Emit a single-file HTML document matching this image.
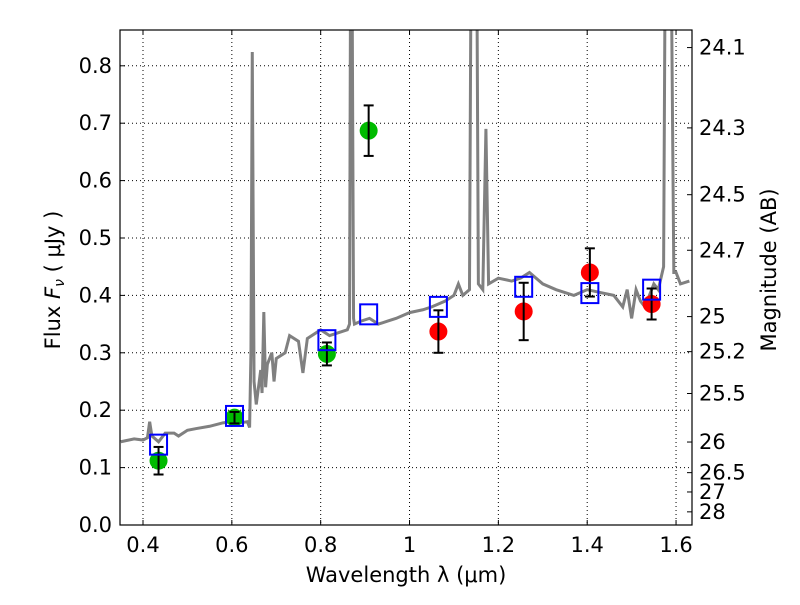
<!DOCTYPE html>
<html><head><meta charset="utf-8"><style>
body{margin:0;background:#fff;}
svg text{font-family:"DejaVu Sans","Liberation Sans",sans-serif;fill:#000;}
</style></head><body>
<svg id="c" width="800" height="600"></svg>
<script>
const specW=[0.35,0.38,0.40,0.41,0.415,0.42,0.435,0.45,0.47,0.48,0.50,0.52,0.55,0.58,0.60,0.62,0.635,0.64,0.643,0.646,0.65,0.655,0.66,0.665,0.668,0.672,0.676,0.68,0.69,0.695,0.70,0.72,0.73,0.75,0.76,0.77,0.80,0.82,0.84,0.86,0.865,0.867,0.871,0.874,0.876,0.89,0.91,0.93,0.95,0.97,1.0,1.03,1.05,1.08,1.10,1.11,1.12,1.135,1.138,1.152,1.155,1.165,1.172,1.178,1.2,1.23,1.25,1.27,1.30,1.33,1.37,1.40,1.43,1.46,1.48,1.49,1.50,1.51,1.52,1.53,1.55,1.56,1.572,1.575,1.59,1.595,1.60,1.61,1.63];
const specF=[0.145,0.15,0.148,0.152,0.18,0.155,0.145,0.16,0.16,0.155,0.165,0.168,0.172,0.178,0.18,0.178,0.18,0.17,0.3,0.824,0.25,0.21,0.24,0.27,0.23,0.371,0.24,0.28,0.30,0.25,0.29,0.30,0.33,0.32,0.265,0.325,0.34,0.33,0.335,0.34,0.35,0.9,0.9,0.36,0.35,0.355,0.36,0.35,0.355,0.36,0.37,0.375,0.38,0.39,0.40,0.42,0.40,0.41,0.9,0.9,0.42,0.41,0.69,0.42,0.43,0.425,0.43,0.44,0.42,0.41,0.40,0.41,0.405,0.40,0.38,0.41,0.36,0.41,0.39,0.38,0.42,0.41,0.45,0.9,0.9,0.44,0.44,0.42,0.425];
const photW=[0.435,0.606,0.814,0.908,1.065,1.257,1.406,1.545];
const photF=[0.112,0.187,0.298,0.687,0.337,0.372,0.44,0.385];
const photE=[0.024,0.01,0.02,0.044,0.037,0.05,0.042,0.027];
const photC=['#00bb00','#00bb00','#00bb00','#00bb00','#ff0000','#ff0000','#ff0000','#ff0000'];
const modelF=[0.14,0.19,0.322,0.367,0.38,0.415,0.404,0.41];
const xTicks=[0.4,0.6,0.8,1.0,1.2,1.4,1.6];
const xLabels=['0.4','0.6','0.8','1','1.2','1.4','1.6'];
const yTicks=[0,0.1,0.2,0.3,0.4,0.5,0.6,0.7,0.8];
const magTicks=[24.1,24.3,24.5,24.7,25,25.2,25.5,26,26.5,27,28];
const L=120,R=692,T=30,B=525;
const X=w=>143+(w-0.4)*444.2;
const Y=f=>B-f*574;
const svg=document.getElementById('c');const NS='http://www.w3.org/2000/svg';
function mk(t,a,p){const e=document.createElementNS(NS,t);for(const k in a)e.setAttribute(k,a[k]);(p||svg).appendChild(e);return e;}
const clip=mk('clipPath',{id:'cp'});mk('rect',{x:L,y:T,width:R-L,height:B-T},clip);
const grid=mk('g',{});

xTicks.forEach((v,i)=>{const x=X(v);mk('line',{x1:x,x2:x,y1:T,y2:B,stroke:'#000','stroke-dasharray':'1,3','stroke-width':1},grid);
mk('line',{x1:x,x2:x,y1:B,y2:B-5,stroke:'#000'});mk('line',{x1:x,x2:x,y1:T,y2:T+5,stroke:'#000'});
const t=mk('text',{x:x,y:B+27,'font-size':21,'text-anchor':'middle'});t.textContent=xLabels[i];
});
yTicks.forEach(v=>{const y=Y(v);mk('line',{x1:L,x2:R,y1:y,y2:y,stroke:'#000','stroke-dasharray':'1,3'},grid);
mk('line',{x1:L,x2:L+5,y1:y,y2:y,stroke:'#000'});
const t=mk('text',{x:L-8,y:y+7,'font-size':21,'text-anchor':'end'});t.textContent=v.toFixed(1);
});
magTicks.forEach(m=>{const f=Math.pow(10,(23.9-m)/2.5);const y=Y(f);
mk('line',{x1:R-5,x2:R,y1:y,y2:y,stroke:'#000'});
const t=mk('text',{x:R+7,y:y+7,'font-size':21});t.textContent=String(m);
});
const g=mk('g',{'clip-path':'url(#cp)'});
const sp=mk('polyline',{points:specW.map((w,i)=>X(w)+','+Y(specF[i])).join(' '),fill:'none',stroke:'#808080','stroke-width':3},g);

photW.forEach((w,i)=>{const x=X(w);
const c=mk('circle',{cx:x,cy:Y(photF[i]),r:9,fill:photC[i]},g);

const y1=Y(photF[i]+photE[i]),y2=Y(photF[i]-photE[i]);
mk('line',{x1:x,x2:x,y1:y1,y2:y2,stroke:'#000','stroke-width':2},g);
mk('line',{x1:x-5,x2:x+5,y1:y1,y2:y1,stroke:'#000','stroke-width':2},g);
mk('line',{x1:x-5,x2:x+5,y1:y2,y2:y2,stroke:'#000','stroke-width':2},g);
const s=mk('rect',{x:x-8.5,y:Y(modelF[i])-10,width:17,height:20,fill:'none',stroke:'#0000ff','stroke-width':2},g);
});
const fr=mk('rect',{x:L,y:T,width:R-L,height:B-T,fill:'none',stroke:'#000','stroke-width':1.2});

</script>
<svg width="800" height="600" style="position:absolute;left:0;top:0">
<text x="406" y="582" font-size="21" text-anchor="middle">Wavelength  λ (μm)</text>
<text transform="translate(60,280) rotate(-90)" font-size="21" text-anchor="middle">Flux  <tspan font-style="italic">F</tspan><tspan font-size="14" dy="4" font-style="italic">ν</tspan><tspan dy="-4">  ( μJy )</tspan></text>
<text transform="translate(776,270) rotate(-90)" font-size="21" text-anchor="middle">Magnitude (AB)</text>
</svg>
</body></html>
